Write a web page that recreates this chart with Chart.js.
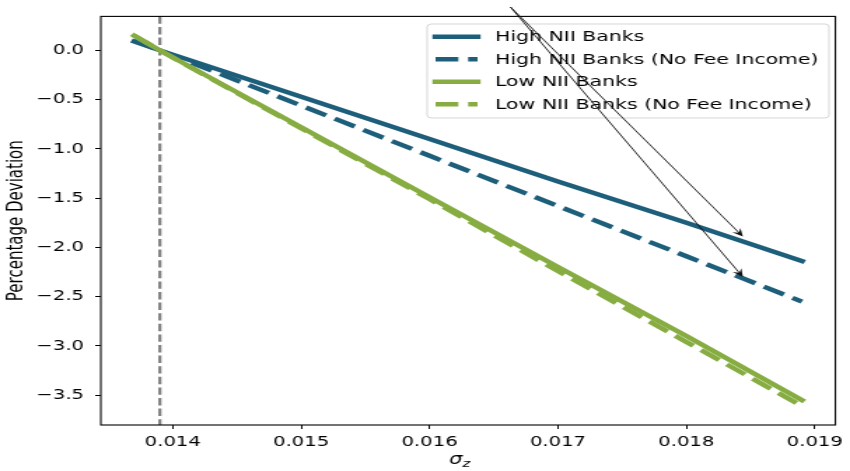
<!DOCTYPE html>
<html>
<head>
<meta charset="utf-8">
<script src="https://cdn.jsdelivr.net/npm/chart.js@4.4.1/dist/chart.umd.min.js"></script>
<style>
  html, body { margin: 0; padding: 0; background: #fff; }
  canvas { display: block; width: 850px !important; height: 471px !important; }
</style>
</head>
<body>
<canvas id="c" width="607" height="471"></canvas>
<script>
// ---- data ----
const sigmaZ        = [0.0137, 0.0139, 0.0150, 0.0160, 0.0170, 0.0180, 0.0189];
const highNII       = [0.09, 0.00, -0.47, -0.90, -1.33, -1.75, -2.14];
const highNIINoFee  = [0.10, 0.00, -0.56, -1.07, -1.58, -2.09, -2.55];
const lowNII        = [0.15, 0.00, -0.78, -1.49, -2.20, -2.90, -3.55];
const lowNIINoFee   = [0.15, 0.00, -0.79, -1.51, -2.24, -2.96, -3.61];
const seriesNames   = ['High NII Banks', 'High NII Banks (No Fee Income)', 'Low NII Banks', 'Low NII Banks (No Fee Income)'];
const xTicks        = [0.014, 0.015, 0.016, 0.017, 0.018, 0.019];
const yTicks        = [0.0, -0.5, -1.0, -1.5, -2.0, -2.5, -3.0, -3.5];
const refSigma      = 0.0139;               // vertical dashed reference line
const arrowStart    = [0.01663, 0.44];      // annotation arrows (data coords)
const arrowTips     = [[0.01844, -1.89], [0.01844, -2.30]];
const xLimits       = [0.01344, 0.01916];
const yLimits       = [-3.803, 0.345];

const BLUE = '#1d5e7b';
const GREEN = '#87ad42';
const LW = 4.4;
const DASH = [16.3, 7.0];

function pts(ys) { return sigmaZ.map((x, i) => ({ x: x, y: ys[i] })); }
function fmtY(v) { return (v < 0 ? '\u2212' : '') + Math.abs(v).toFixed(1); }

const styles = [
  { color: BLUE, dash: [] },
  { color: BLUE, dash: DASH },
  { color: GREEN, dash: [] },
  { color: GREEN, dash: DASH }
];
const values = [highNII, highNIINoFee, lowNII, lowNIINoFee];

const datasets = values.map((v, i) => ({
  label: seriesNames[i],
  data: pts(v),
  borderColor: styles[i].color,
  borderWidth: LW,
  borderDash: styles[i].dash,
  borderCapStyle: styles[i].dash.length ? 'butt' : 'square',
  pointRadius: 0,
  fill: false,
  tension: 0,
  order: 3 - i
}));

const FONT = '"DejaVu Sans", "Liberation Sans", sans-serif';

const decor = {
  id: 'decor',
  beforeDatasetsDraw(chart) {
    const { ctx, chartArea: a, scales: { x } } = chart;
    const px = x.getPixelForValue(refSigma);
    ctx.save();
    ctx.strokeStyle = '#808080';
    ctx.lineWidth = 2.2;
    ctx.setLineDash([7.4, 3.2]);
    ctx.beginPath();
    ctx.moveTo(px, a.top);
    ctx.lineTo(px, a.bottom);
    ctx.stroke();
    ctx.restore();
  },
  afterDraw(chart) {
    const { ctx, chartArea: a, scales: { x, y } } = chart;
    ctx.save();
    // frame
    ctx.strokeStyle = '#000';
    ctx.lineWidth = 1.1;
    ctx.strokeRect(a.left, a.top, a.right - a.left, a.bottom - a.top);

    // legend
    const L = 305, R = 592, T = 24, B = 118;
    ctx.fillStyle = 'rgba(255,255,255,0.8)';
    ctx.strokeStyle = 'rgba(204,204,204,0.8)';
    ctx.lineWidth = 1;
    ctx.beginPath();
    if (ctx.roundRect) ctx.roundRect(L, T, R - L, B - T, 3); else ctx.rect(L, T, R - L, B - T);
    ctx.fill();
    ctx.stroke();
    const rows = [36.7, 59.2, 81.7, 104.2];
    ctx.font = '14.6px ' + FONT;
    ctx.textBaseline = 'middle';
    ctx.textAlign = 'left';
    rows.forEach((ry, i) => {
      ctx.strokeStyle = styles[i].color;
      ctx.lineWidth = LW;
      ctx.lineCap = styles[i].dash.length ? 'butt' : 'square';
      ctx.setLineDash(styles[i].dash);
      ctx.beginPath();
      ctx.moveTo(311, ry);
      ctx.lineTo(341, ry);
      ctx.stroke();
      ctx.setLineDash([]);
      ctx.fillStyle = '#000';
      ctx.fillText(seriesNames[i], 353.5, ry + 1);
    });

    // arrows
    const sx = x.getPixelForValue(arrowStart[0]);
    const sy = y.getPixelForValue(arrowStart[1]);
    arrowTips.forEach(t => {
      const tx = x.getPixelForValue(t[0]);
      const ty = y.getPixelForValue(t[1]);
      const ang = Math.atan2(ty - sy, tx - sx);
      ctx.strokeStyle = '#111';
      ctx.fillStyle = '#111';
      ctx.lineWidth = 0.9;
      ctx.lineCap = 'butt';
      ctx.beginPath();
      ctx.moveTo(sx, sy);
      ctx.lineTo(tx - 3 * Math.cos(ang), ty - 3 * Math.sin(ang));
      ctx.stroke();
      const hl = 8, hw = 3.6;
      const bx = tx - hl * Math.cos(ang), by = ty - hl * Math.sin(ang);
      const nx = -Math.sin(ang), ny = Math.cos(ang);
      const mx = tx - hl * 0.6 * Math.cos(ang), my = ty - hl * 0.6 * Math.sin(ang);
      ctx.beginPath();
      ctx.moveTo(tx, ty);
      ctx.lineTo(bx + nx * hw, by + ny * hw);
      ctx.lineTo(mx, my);
      ctx.lineTo(bx - nx * hw, by - ny * hw);
      ctx.closePath();
      ctx.fill();
    });

    // x-axis title: sigma with subscript z
    const cx = (a.left + a.right) / 2;
    ctx.fillStyle = '#000';
    ctx.textBaseline = 'alphabetic';
    ctx.textAlign = 'right';
    ctx.font = 'italic 15px ' + FONT;
    ctx.fillText('\u03C3', cx - 4, 463.5);
    ctx.textAlign = 'left';
    ctx.font = 'italic 10.5px ' + FONT;
    ctx.fillText('z', cx - 4, 467);
    ctx.restore();
  }
};

new Chart(document.getElementById('c'), {
  type: 'line',
  data: { datasets },
  plugins: [decor],
  options: {
    responsive: false,
    animation: false,
    devicePixelRatio: 1,
    layout: { padding: { top: 16, right: 4, left: 0, bottom: 0 } },
    plugins: { legend: { display: false }, tooltip: { enabled: false } },
    scales: {
      x: {
        type: 'linear',
        min: xLimits[0], max: xLimits[1],
        afterBuildTicks: s => { s.ticks = xTicks.map(v => ({ value: v })); },
        afterFit: s => { s.height = 46; },
        grid: { drawOnChartArea: false, drawTicks: true, tickLength: 4, color: '#000' },
        border: { display: false },
        ticks: {
          color: '#000',
          font: { family: FONT, size: 14 },
          padding: 5,
          maxRotation: 0,
          callback: v => Number(v).toFixed(3)
        },
        title: { display: false }
      },
      y: {
        type: 'linear',
        min: yLimits[0], max: yLimits[1],
        afterBuildTicks: s => { s.ticks = yTicks.map(v => ({ value: v })); },
        afterFit: s => { s.width = 72; },
        grid: { drawOnChartArea: false, drawTicks: true, tickLength: 4, color: '#000' },
        border: { display: false },
        ticks: {
          color: '#000',
          font: { family: FONT, size: 14 },
          padding: 8,
          callback: v => fmtY(v)
        },
        title: {
          display: true,
          text: 'Percentage Deviation',
          color: '#000',
          font: { family: FONT, size: 15 },
          padding: { top: 3, bottom: 0 }
        }
      }
    }
  }
});
</script>
</body>
</html>
